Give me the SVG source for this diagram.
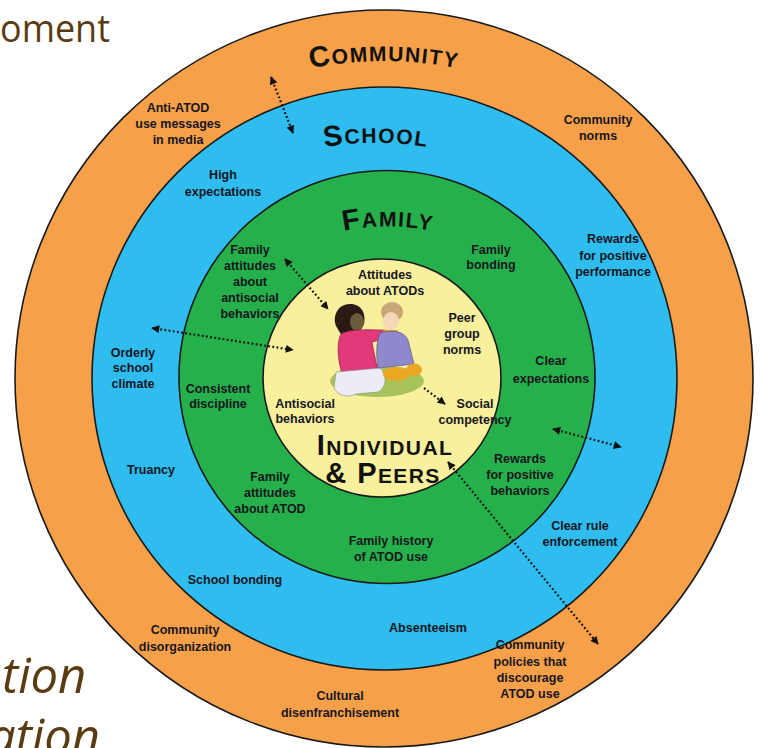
<svg xmlns="http://www.w3.org/2000/svg" width="762" height="748" viewBox="0 0 762 748">
  <style>
    .lbl { font-family: "Liberation Sans", Arial, sans-serif; font-weight: bold; font-size: 12.5px; fill: #16161f; text-anchor: middle; }
    .ttl { font-family: "Liberation Sans", Arial, sans-serif; font-weight: bold; fill: #111; letter-spacing: 1.4px; }
    .big { font-size: 29px; }
    .sm { font-size: 21px; }
    .ring { stroke: #1a1a1a; stroke-width: 1.6; }
    .bg { font-family: "Open Sans", "Liberation Sans", sans-serif; fill: #5b3c12; }
    .dots { fill: none; stroke: #111; stroke-width: 2.2; stroke-dasharray: 1.8 2.4; }
  </style>
  <defs>
    <marker id="ah" viewBox="0 0 10 10" refX="9" refY="5" markerUnits="userSpaceOnUse" markerWidth="11" markerHeight="8" orient="auto-start-reverse">
      <path d="M0,0 L10,5 L0,10 z" fill="#111"/>
    </marker>
    <path id="arcCommunity" d="M184,118 A380,380 0 0 1 584,118"/>
    <path id="arcSchool" d="M226,183 A300,300 0 0 1 526,183"/>
    <path id="arcFamily" d="M268,262 A220,220 0 0 1 508,262"/>
  </defs>

  <rect width="762" height="748" fill="#ffffff"/>

  <!-- slide text behind the figure -->
  <text class="bg" x="0" y="42" font-size="38" textLength="110" lengthAdjust="spacingAndGlyphs">oment</text>
  <text class="bg" x="2" y="693" font-size="49" font-style="italic">tion</text>
  <text class="bg" x="-12" y="754" font-size="49" font-style="italic">ation</text>

  <!-- nested rings -->
  <g id="community">
    <ellipse class="ring" cx="384" cy="378.5" rx="369" ry="368.5" fill="#f6a04a"/>
    <text class="ttl"><textPath href="#arcCommunity" startOffset="50%" text-anchor="middle"><tspan class="big">C</tspan><tspan class="sm">OMMUNITY</tspan></textPath></text>
  </g>
  <g id="school">
    <ellipse class="ring" cx="384.5" cy="378.5" rx="292.5" ry="291.5" fill="#2ebdee"/>
    <text class="ttl"><textPath href="#arcSchool" startOffset="50%" text-anchor="middle"><tspan class="big">S</tspan><tspan class="sm">CHOOL</tspan></textPath></text>
  </g>
  <g id="family">
    <ellipse class="ring" cx="387" cy="377" rx="208" ry="206.5" fill="#26b04b"/>
    <text class="ttl"><textPath href="#arcFamily" startOffset="50%" text-anchor="middle"><tspan class="big">F</tspan><tspan class="sm">AMILY</tspan></textPath></text>
  </g>
  <g id="individual">
    <circle class="ring" cx="382" cy="378" r="119" fill="#f8f09c"/>
    <text class="ttl" x="385" y="455" text-anchor="middle" letter-spacing="0.6"><tspan class="big">I</tspan><tspan class="sm">NDIVIDUAL</tspan></text>
    <text class="ttl" x="383" y="483" text-anchor="middle" letter-spacing="1"><tspan class="big">&amp; P</tspan><tspan class="sm">EERS</tspan></text>
  </g>

  <!-- two children seated on a patch of grass -->
  <g id="children">
    <ellipse cx="377" cy="381" rx="47" ry="16" fill="#a8c35a"/>
    <!-- girl -->
    <path d="M336,326 C332,316 338,304 350,304 C362,304 366,314 364,324 L358,334 L342,336 Z" fill="#2a1a14"/>
    <ellipse cx="357" cy="322" rx="7" ry="9" fill="#6a5b3a"/>
    <path d="M341,334 C350,328 372,330 386,330 L388,338 L372,342 L378,372 L342,374 C338,360 336,344 341,334 Z" fill="#e2397a" stroke="#7a1838" stroke-width="0.6"/>
    <path d="M336,372 L380,368 C388,376 386,388 378,392 L356,394 C348,398 338,396 334,388 Z" fill="#ececf4" stroke="#888" stroke-width="0.6"/>
    <!-- boy -->
    <ellipse cx="392" cy="312" rx="11" ry="10" fill="#c8a676"/>
    <ellipse cx="391" cy="321" rx="8" ry="9" fill="#f2d8b6"/>
    <path d="M383,330 L398,330 L396,335 L385,335 Z" fill="#e9a722"/>
    <path d="M380,333 C392,329 404,331 408,340 L414,364 L378,368 C376,356 376,342 380,333 Z" fill="#8f88cc" stroke="#4d4680" stroke-width="0.6"/>
    <ellipse cx="396" cy="374" rx="13" ry="7" fill="#e9a722"/>
    <ellipse cx="414" cy="370" rx="8" ry="6.5" fill="#e9a722"/>
  </g>

  <!-- factor labels -->
  <g id="labels-community">
    <text class="lbl" x="178" y="112">Anti-ATOD</text>
    <text class="lbl" x="178" y="128">use messages</text>
    <text class="lbl" x="178" y="144">in media</text>
    <text class="lbl" x="598" y="124">Community</text>
    <text class="lbl" x="598" y="140">norms</text>
    <text class="lbl" x="185" y="634">Community</text>
    <text class="lbl" x="185" y="651">disorganization</text>
    <text class="lbl" x="340" y="700">Cultural</text>
    <text class="lbl" x="340" y="717">disenfranchisement</text>
    <text class="lbl" x="530" y="649">Community</text>
    <text class="lbl" x="530" y="666">policies that</text>
    <text class="lbl" x="530" y="682">discourage</text>
    <text class="lbl" x="530" y="698">ATOD use</text>
  </g>
  <g id="labels-school">
    <text class="lbl" x="223" y="179">High</text>
    <text class="lbl" x="223" y="196">expectations</text>
    <text class="lbl" x="613" y="243">Rewards</text>
    <text class="lbl" x="613" y="260">for positive</text>
    <text class="lbl" x="613" y="276">performance</text>
    <text class="lbl" x="133" y="357">Orderly</text>
    <text class="lbl" x="133" y="372">school</text>
    <text class="lbl" x="133" y="388">climate</text>
    <text class="lbl" x="151" y="474">Truancy</text>
    <text class="lbl" x="580" y="530">Clear rule</text>
    <text class="lbl" x="580" y="546">enforcement</text>
    <text class="lbl" x="235" y="584">School bonding</text>
    <text class="lbl" x="428" y="632">Absenteeism</text>
  </g>
  <g id="labels-family">
    <text class="lbl" x="250" y="254">Family</text>
    <text class="lbl" x="250" y="270">attitudes</text>
    <text class="lbl" x="250" y="286">about</text>
    <text class="lbl" x="250" y="302">antisocial</text>
    <text class="lbl" x="250" y="318">behaviors</text>
    <text class="lbl" x="491" y="254">Family</text>
    <text class="lbl" x="491" y="269">bonding</text>
    <text class="lbl" x="218" y="393">Consistent</text>
    <text class="lbl" x="218" y="408">discipline</text>
    <text class="lbl" x="551" y="365">Clear</text>
    <text class="lbl" x="551" y="383">expectations</text>
    <text class="lbl" x="270" y="481">Family</text>
    <text class="lbl" x="270" y="497">attitudes</text>
    <text class="lbl" x="270" y="513">about ATOD</text>
    <text class="lbl" x="520" y="463">Rewards</text>
    <text class="lbl" x="520" y="479">for positive</text>
    <text class="lbl" x="520" y="495">behaviors</text>
    <text class="lbl" x="391" y="545">Family history</text>
    <text class="lbl" x="391" y="561">of ATOD use</text>
  </g>
  <g id="labels-individual">
    <text class="lbl" x="385" y="279">Attitudes</text>
    <text class="lbl" x="385" y="295">about ATODs</text>
    <text class="lbl" x="462" y="322">Peer</text>
    <text class="lbl" x="462" y="338">group</text>
    <text class="lbl" x="462" y="354">norms</text>
    <text class="lbl" x="305" y="408">Antisocial</text>
    <text class="lbl" x="305" y="423">behaviors</text>
    <text class="lbl" x="475" y="408">Social</text>
    <text class="lbl" x="475" y="424">competency</text>
  </g>

  <!-- dotted influence arrows -->
  <g id="connectors">
    <line class="dots" x1="271" y1="77" x2="293" y2="133" marker-start="url(#ah)" marker-end="url(#ah)"/>
    <line class="dots" x1="285" y1="259" x2="328" y2="309" marker-start="url(#ah)" marker-end="url(#ah)"/>
    <line class="dots" x1="152" y1="328" x2="293" y2="350" marker-start="url(#ah)" marker-end="url(#ah)"/>
    <line class="dots" x1="424" y1="388" x2="445" y2="404" marker-end="url(#ah)"/>
    <line class="dots" x1="553" y1="429" x2="621" y2="447" marker-start="url(#ah)" marker-end="url(#ah)"/>
    <line class="dots" x1="448" y1="462" x2="598" y2="644" marker-start="url(#ah)" marker-end="url(#ah)"/>
  </g>
</svg>
